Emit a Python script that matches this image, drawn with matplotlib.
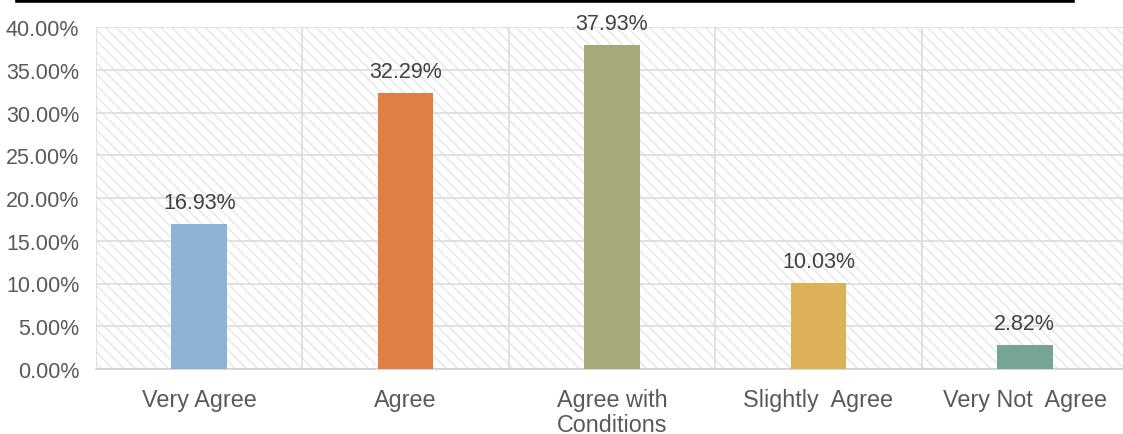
import matplotlib
matplotlib.use("Agg")
import matplotlib.pyplot as plt
from matplotlib.patches import Rectangle
from matplotlib.lines import Line2D
from matplotlib.ticker import FuncFormatter, MultipleLocator

categories = ["Very Agree", "Agree", "Agree with\nConditions", "Slightly  Agree", "Very Not  Agree"]
values = [16.93, 32.29, 37.93, 10.03, 2.82]
colors = ["#8fb3d6", "#e07f45", "#a5aa78", "#dcb158", "#74a595"]

plt.rcParams['font.family'] = ['Liberation Sans', 'DejaVu Sans']
plt.rcParams['hatch.linewidth'] = 0.9

W, H = 1123, 435
fig = plt.figure(figsize=(W / 100, H / 100), dpi=100)
ax = fig.add_axes([96 / W, 1 - 370 / H, (1128 - 96) / W, (370 - 28) / H])

# hatched background
bg = Rectangle((0, 0), 1, 1, transform=ax.transAxes, facecolor="white",
               edgecolor="#e4e4e4", hatch="\\\\\\", linewidth=0, zorder=0)
ax.add_patch(bg)

x = list(range(len(categories)))
ax.bar(x, values, width=0.27, color=colors, zorder=3)
for xi, v in zip(x, values):
    ax.annotate(f"{v:.2f}%", (xi, v), xytext=(0, 8), textcoords="offset points",
                ha="center", va="bottom", fontsize=15.5, color="#404040", zorder=4)

ax.set_xlim(-0.5, len(categories) - 0.5)
ax.set_ylim(0, 40)
ax.yaxis.set_major_locator(MultipleLocator(5))
ax.yaxis.set_major_formatter(FuncFormatter(lambda v, p: f"{v:.2f}%"))
ax.set_xticks(x)
ax.set_xticklabels(categories, fontsize=16.8, color="#595959", linespacing=1.1)
ax.tick_params(axis="y", labelsize=15.5, labelcolor="#595959", length=0, pad=12)
ax.tick_params(axis="x", length=0, pad=14)

ax.grid(axis="y", color="#dcdcdc", linewidth=1.2, zorder=1)
for b in range(len(categories) + 1):
    ax.axvline(b - 0.5, color="#dcdcdc", linewidth=1.2, zorder=1)

for s in ["top", "right", "left"]:
    ax.spines[s].set_visible(False)
ax.spines["bottom"].set_color("#d0d0d0")
ax.spines["bottom"].set_linewidth(1.2)
ax.set_facecolor("white")

# top black rule
fig.add_artist(Line2D([17 / W, 1073 / W], [1 - 1.5 / H, 1 - 1.5 / H],
                      transform=fig.transFigure, color="black", linewidth=2.6))

fig.savefig("out.png", dpi=100)
